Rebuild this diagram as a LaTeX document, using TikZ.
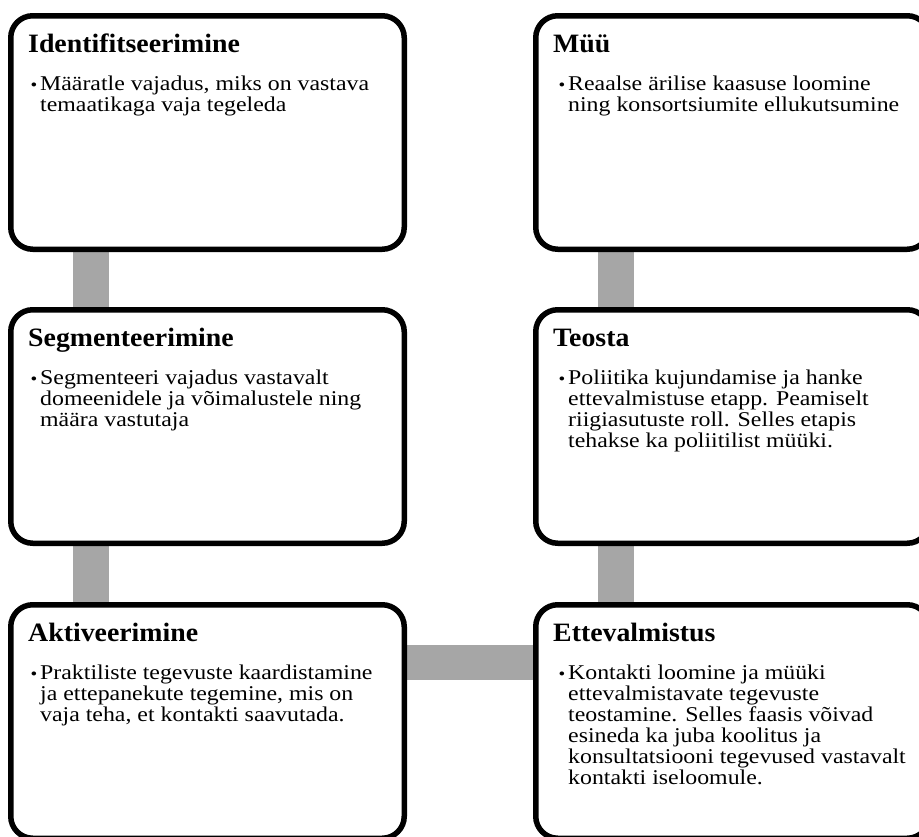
\documentclass[tikz,border=0pt]{standalone}
\usepackage{fontspec}
\usepackage{graphicx}
\setmainfont{Liberation Serif}
\newfontfamily\bodyfont[FakeStretch=1.135]{Liberation Serif}
\newfontfamily\headfont[FakeStretch=1.05]{Liberation Serif}
\usetikzlibrary{backgrounds}
\definecolor{linkgray}{RGB}{166,166,166}
% small bullet hung into the left margin of the first line
\newcommand\bul{\llap{\scalebox{0.8}{•}\hspace{3pt}}}
% lines of a bullet item, aligned on the first baseline
\newenvironment{itemlines}{\begin{tabular}[t]{@{}l@{}}}{\end{tabular}}

\tikzset{
  stage/.style={draw=black, line width=5.5pt, fill=white, rounded corners=22pt,
    minimum width=393.5pt, minimum height=233.5pt, inner sep=0pt, anchor=north west},
  heading/.style={anchor=base west, inner sep=0pt,
    font=\headfont\bfseries\fontsize{26.5pt}{30pt}\selectfont},
  bodytext/.style={anchor=base west, inner sep=0pt,
    font=\bodyfont\fontsize{21pt}{21pt}\selectfont},
  conn/.style={draw=linkgray, line width=36pt},
  hconn/.style={draw=linkgray, line width=35pt}
}

\begin{document}
\begin{tikzpicture}[x=1pt, y=-1pt]
\useasboundingbox (0,0) rectangle (919,836);

% stage boxes
\node[stage] (idf) at (8,13) {};
\node[stage] (seg) at (8,307) {};
\node[stage] (akt) at (8,602) {};
\node[stage] (myy) at (533,13) {};
\node[stage] (teo) at (533,307) {};
\node[stage] (ett) at (533,602) {};

% headings
\node[heading] (idf-t) at ([shift={(20pt,-39pt)}]idf.north west) {Identifitseerimine};
\node[heading] (seg-t) at ([shift={(20pt,-39pt)}]seg.north west) {Segmenteerimine};
\node[heading] (akt-t) at ([shift={(20pt,-39pt)}]akt.north west) {Aktiveerimine};
\node[heading] (myy-t) at ([shift={(20pt,-39pt)}]myy.north west) {Müü};
\node[heading] (teo-t) at ([shift={(20pt,-39pt)}]teo.north west) {Teosta};
\node[heading] (ett-t) at ([shift={(20pt,-39pt)}]ett.north west) {Ettevalmistus};

% bullet texts
\node[bodytext] (idf-b) at ([shift={(32pt,-77pt)}]idf.north west)
  {\begin{itemlines}\bul Määratle vajadus, miks on vastava\\temaatikaga vaja tegeleda\end{itemlines}};
\node[bodytext] (seg-b) at ([shift={(32pt,-77pt)}]seg.north west)
  {\begin{itemlines}\bul Segmenteeri vajadus vastavalt\\domeenidele ja võimalustele ning\\määra vastutaja\end{itemlines}};
\node[bodytext] (akt-b) at ([shift={(32pt,-77pt)}]akt.north west)
  {\begin{itemlines}\bul Praktiliste tegevuste kaardistamine\\ja ettepanekute tegemine, mis on\\vaja teha, et kontakti saavutada.\end{itemlines}};
\node[bodytext] (myy-b) at ([shift={(35pt,-77pt)}]myy.north west)
  {\begin{itemlines}\bul Reaalse ärilise kaasuse loomine\\ning konsortsiumite ellukutsumine\end{itemlines}};
\node[bodytext] (teo-b) at ([shift={(35pt,-77pt)}]teo.north west)
  {\begin{itemlines}\bul Poliitika kujundamise ja hanke\\ettevalmistuse etapp. Peamiselt\\riigiasutuste roll. Selles etapis\\tehakse ka poliitilist müüki.\end{itemlines}};
\node[bodytext] (ett-b) at ([shift={(35pt,-77pt)}]ett.north west)
  {\begin{itemlines}\bul Kontakti loomine ja müüki\\ettevalmistavate tegevuste\\teostamine. Selles faasis võivad\\esineda ka juba koolitus ja\\konsultatsiooni tegevused vastavalt\\kontakti iseloomule.\end{itemlines}};

% connectors behind the boxes
\begin{scope}[on background layer]
\draw[conn] ([xshift=83pt]idf.south west) -- ([xshift=83pt]seg.north west);
\draw[conn] ([xshift=83pt]seg.south west) -- ([xshift=83pt]akt.north west);
\draw[conn] ([xshift=83pt]myy.south west) -- ([xshift=83pt]teo.north west);
\draw[conn] ([xshift=83pt]teo.south west) -- ([xshift=83pt]ett.north west);
\draw[hconn] ([yshift=-60.5pt]akt.north east) -- ([yshift=-60.5pt]ett.north west);
\end{scope}
\end{tikzpicture}
\end{document}
